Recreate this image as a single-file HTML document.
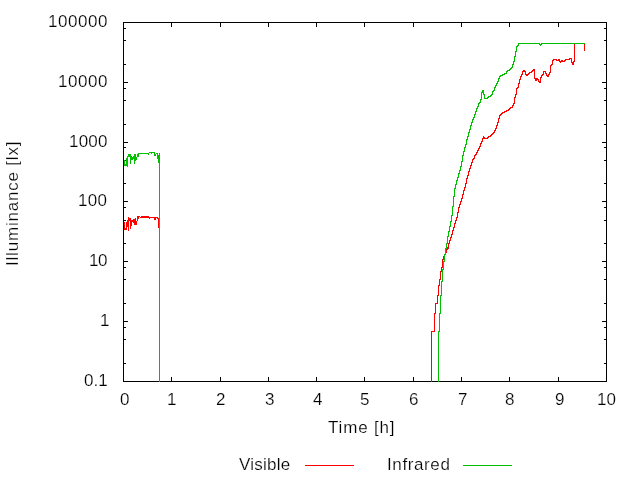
<!DOCTYPE html>
<html><head><meta charset="utf-8"><style>
html,body{margin:0;padding:0;background:#fff;width:640px;height:480px;overflow:hidden}
.t{position:absolute;will-change:transform;font-family:"Liberation Sans",sans-serif;font-size:17px;color:#000;white-space:nowrap;line-height:1;-webkit-text-stroke:0.2px #fff}
.r{will-change:auto;filter:grayscale(1)}
svg{position:absolute;left:0;top:0}
</style></head><body>
<svg width="640" height="480" viewBox="0 0 640 480" shape-rendering="crispEdges">
<rect x="123" y="22" width="484" height="1" fill="#000"/>
<rect x="123" y="381" width="484" height="1" fill="#000"/>
<rect x="123" y="22" width="1" height="360" fill="#000"/>
<rect x="606" y="22" width="1" height="360" fill="#000"/>
<rect x="123" y="381" width="5" height="1" fill="#000"/>
<rect x="602" y="381" width="5" height="1" fill="#000"/>
<rect x="123" y="363" width="3" height="1" fill="#000"/>
<rect x="604" y="363" width="3" height="1" fill="#000"/>
<rect x="123" y="339" width="3" height="1" fill="#000"/>
<rect x="604" y="339" width="3" height="1" fill="#000"/>
<rect x="123" y="327" width="3" height="1" fill="#000"/>
<rect x="604" y="327" width="3" height="1" fill="#000"/>
<rect x="123" y="321" width="5" height="1" fill="#000"/>
<rect x="602" y="321" width="5" height="1" fill="#000"/>
<rect x="123" y="303" width="3" height="1" fill="#000"/>
<rect x="604" y="303" width="3" height="1" fill="#000"/>
<rect x="123" y="279" width="3" height="1" fill="#000"/>
<rect x="604" y="279" width="3" height="1" fill="#000"/>
<rect x="123" y="267" width="3" height="1" fill="#000"/>
<rect x="604" y="267" width="3" height="1" fill="#000"/>
<rect x="123" y="261" width="5" height="1" fill="#000"/>
<rect x="602" y="261" width="5" height="1" fill="#000"/>
<rect x="123" y="243" width="3" height="1" fill="#000"/>
<rect x="604" y="243" width="3" height="1" fill="#000"/>
<rect x="123" y="220" width="3" height="1" fill="#000"/>
<rect x="604" y="220" width="3" height="1" fill="#000"/>
<rect x="123" y="207" width="3" height="1" fill="#000"/>
<rect x="604" y="207" width="3" height="1" fill="#000"/>
<rect x="123" y="201" width="5" height="1" fill="#000"/>
<rect x="602" y="201" width="5" height="1" fill="#000"/>
<rect x="123" y="183" width="3" height="1" fill="#000"/>
<rect x="604" y="183" width="3" height="1" fill="#000"/>
<rect x="123" y="160" width="3" height="1" fill="#000"/>
<rect x="604" y="160" width="3" height="1" fill="#000"/>
<rect x="123" y="147" width="3" height="1" fill="#000"/>
<rect x="604" y="147" width="3" height="1" fill="#000"/>
<rect x="123" y="142" width="5" height="1" fill="#000"/>
<rect x="602" y="142" width="5" height="1" fill="#000"/>
<rect x="123" y="124" width="3" height="1" fill="#000"/>
<rect x="604" y="124" width="3" height="1" fill="#000"/>
<rect x="123" y="100" width="3" height="1" fill="#000"/>
<rect x="604" y="100" width="3" height="1" fill="#000"/>
<rect x="123" y="88" width="3" height="1" fill="#000"/>
<rect x="604" y="88" width="3" height="1" fill="#000"/>
<rect x="123" y="82" width="5" height="1" fill="#000"/>
<rect x="602" y="82" width="5" height="1" fill="#000"/>
<rect x="123" y="64" width="3" height="1" fill="#000"/>
<rect x="604" y="64" width="3" height="1" fill="#000"/>
<rect x="123" y="40" width="3" height="1" fill="#000"/>
<rect x="604" y="40" width="3" height="1" fill="#000"/>
<rect x="123" y="28" width="3" height="1" fill="#000"/>
<rect x="604" y="28" width="3" height="1" fill="#000"/>
<rect x="123" y="22" width="5" height="1" fill="#000"/>
<rect x="602" y="22" width="5" height="1" fill="#000"/>
<rect x="123" y="377" width="1" height="5" fill="#000"/>
<rect x="123" y="22" width="1" height="5" fill="#000"/>
<rect x="171" y="377" width="1" height="5" fill="#000"/>
<rect x="171" y="22" width="1" height="5" fill="#000"/>
<rect x="220" y="377" width="1" height="5" fill="#000"/>
<rect x="220" y="22" width="1" height="5" fill="#000"/>
<rect x="268" y="377" width="1" height="5" fill="#000"/>
<rect x="268" y="22" width="1" height="5" fill="#000"/>
<rect x="316" y="377" width="1" height="5" fill="#000"/>
<rect x="316" y="22" width="1" height="5" fill="#000"/>
<rect x="364" y="377" width="1" height="5" fill="#000"/>
<rect x="364" y="22" width="1" height="5" fill="#000"/>
<rect x="413" y="377" width="1" height="5" fill="#000"/>
<rect x="413" y="22" width="1" height="5" fill="#000"/>
<rect x="461" y="377" width="1" height="5" fill="#000"/>
<rect x="461" y="22" width="1" height="5" fill="#000"/>
<rect x="509" y="377" width="1" height="5" fill="#000"/>
<rect x="509" y="22" width="1" height="5" fill="#000"/>
<rect x="558" y="377" width="1" height="5" fill="#000"/>
<rect x="558" y="22" width="1" height="5" fill="#000"/>
<rect x="606" y="377" width="1" height="5" fill="#000"/>
<rect x="606" y="22" width="1" height="5" fill="#000"/>
<rect x="124" y="222" width="1" height="8" fill="#ff0000"/>
<rect x="125" y="228" width="1" height="2" fill="#ff0000"/>
<rect x="126" y="222" width="1" height="8" fill="#ff0000"/>
<rect x="127" y="220" width="1" height="7" fill="#ff0000"/>
<rect x="128" y="217" width="1" height="14" fill="#ff0000"/>
<rect x="129" y="218" width="1" height="3" fill="#ff0000"/>
<rect x="130" y="218" width="1" height="11" fill="#ff0000"/>
<rect x="131" y="220" width="1" height="6" fill="#ff0000"/>
<rect x="132" y="220" width="1" height="2" fill="#ff0000"/>
<rect x="133" y="219" width="1" height="4" fill="#ff0000"/>
<rect x="134" y="219" width="1" height="6" fill="#ff0000"/>
<rect x="135" y="218" width="1" height="7" fill="#ff0000"/>
<rect x="136" y="221" width="1" height="4" fill="#ff0000"/>
<rect x="137" y="216" width="1" height="5" fill="#ff0000"/>
<rect x="138" y="216" width="1" height="3" fill="#ff0000"/>
<rect x="139" y="216" width="1" height="1" fill="#ff0000"/>
<rect x="140" y="217" width="1" height="1" fill="#ff0000"/>
<rect x="149" y="217" width="1" height="2" fill="#ff0000"/>
<rect x="150" y="217" width="1" height="1" fill="#ff0000"/>
<rect x="151" y="217" width="1" height="1" fill="#ff0000"/>
<rect x="152" y="217" width="1" height="1" fill="#ff0000"/>
<rect x="153" y="217" width="1" height="1" fill="#ff0000"/>
<rect x="154" y="217" width="1" height="3" fill="#ff0000"/>
<rect x="155" y="217" width="1" height="3" fill="#ff0000"/>
<rect x="156" y="217" width="1" height="1" fill="#ff0000"/>
<rect x="157" y="217" width="1" height="2" fill="#ff0000"/>
<rect x="158" y="218" width="1" height="10" fill="#ff0000"/>
<rect x="141" y="216" width="1" height="2" fill="#ff0000"/>
<rect x="142" y="216" width="1" height="2" fill="#ff0000"/>
<rect x="143" y="216" width="1" height="2" fill="#ff0000"/>
<rect x="144" y="216" width="1" height="2" fill="#ff0000"/>
<rect x="145" y="216" width="1" height="2" fill="#ff0000"/>
<rect x="146" y="216" width="1" height="2" fill="#ff0000"/>
<rect x="147" y="216" width="1" height="2" fill="#ff0000"/>
<rect x="148" y="216" width="1" height="2" fill="#ff0000"/>
<path fill="#ff0000" d="M431 331h1v51h-1zM432 331h1v1h-1zM433 331h1v1h-1zM434 313h1v19h-1zM435 303h1v11h-1zM436 303h1v1h-1zM437 295h1v9h-1zM438 285h1v11h-1zM439 279h1v7h-1zM440 271h1v9h-1zM441 267h1v5h-1zM442 259h1v9h-1zM443 256h1v4h-1zM444 254h1v3h-1zM445 252h1v3h-1zM446 249h1v4h-1zM447 247h1v3h-1zM448 243h1v6h-1zM449 240h1v4h-1zM450 237h1v4h-1zM451 234h1v4h-1zM452 230h1v5h-1zM453 227h1v4h-1zM454 223h1v5h-1zM455 220h1v4h-1zM456 217h1v4h-1zM457 212h1v6h-1zM458 207h1v6h-1zM459 204h1v4h-1zM460 201h1v4h-1zM461 198h1v4h-1zM462 194h1v5h-1zM463 190h1v5h-1zM464 187h1v4h-1zM465 183h1v5h-1zM466 178h1v6h-1zM467 175h1v4h-1zM468 171h1v5h-1zM469 168h1v4h-1zM470 165h1v4h-1zM471 162h1v4h-1zM472 159h1v4h-1zM473 158h1v2h-1zM474 155h1v4h-1zM475 154h1v2h-1zM476 152h1v3h-1zM477 150h1v3h-1zM478 148h1v3h-1zM479 146h1v3h-1zM480 143h1v4h-1zM481 141h1v3h-1zM482 138h1v4h-1zM483 136h1v3h-1zM484 137h1v2h-1zM485 138h1v1h-1zM486 138h1v1h-1zM487 137h1v2h-1zM488 136h1v2h-1zM489 136h1v1h-1zM490 135h1v2h-1zM491 134h1v2h-1zM492 133h1v2h-1zM493 132h1v2h-1zM494 130h1v3h-1zM495 128h1v3h-1zM496 125h1v4h-1zM497 122h1v4h-1zM498 118h1v5h-1zM499 115h1v4h-1zM500 114h1v2h-1zM501 113h1v2h-1zM502 112h1v2h-1zM503 112h1v1h-1zM504 111h1v2h-1zM505 111h1v1h-1zM506 110h1v2h-1zM507 110h1v1h-1zM508 109h1v2h-1zM509 108h1v2h-1zM510 107h1v2h-1zM511 107h1v1h-1zM512 105h1v3h-1zM513 103h1v3h-1zM514 97h1v7h-1zM515 94h1v4h-1zM516 88h1v7h-1zM517 87h1v2h-1zM518 83h1v5h-1zM519 79h1v5h-1zM520 76h1v4h-1zM521 74h1v3h-1zM522 71h1v4h-1zM523 70h1v2h-1zM524 70h1v2h-1zM525 71h1v4h-1zM526 74h1v2h-1zM527 74h1v2h-1zM528 73h1v2h-1zM529 72h1v2h-1zM530 72h1v1h-1zM531 71h1v2h-1zM532 70h1v2h-1zM533 69h1v2h-1zM534 69h1v10h-1zM535 78h1v3h-1zM536 78h1v3h-1zM537 78h1v2h-1zM538 79h1v3h-1zM539 81h1v2h-1zM540 77h1v6h-1zM541 75h1v3h-1zM542 74h1v2h-1zM543 71h1v4h-1zM544 71h1v1h-1zM545 71h1v3h-1zM546 73h1v3h-1zM547 75h1v2h-1zM548 74h1v3h-1zM549 72h1v3h-1zM550 65h1v8h-1zM551 64h1v2h-1zM552 60h1v5h-1zM553 59h1v2h-1zM554 59h1v1h-1zM555 59h1v1h-1zM556 59h1v2h-1zM557 60h1v1h-1zM558 59h1v2h-1zM559 59h1v3h-1zM560 61h1v2h-1zM561 60h1v2h-1zM562 60h1v2h-1zM563 61h1v1h-1zM564 60h1v2h-1zM565 59h1v2h-1zM566 59h1v1h-1zM567 59h1v1h-1zM568 59h1v1h-1zM569 58h1v2h-1zM570 58h1v1h-1zM571 58h1v5h-1zM572 62h1v3h-1zM573 61h1v4h-1zM574 43h1v19h-1zM575 43h1v1h-1zM576 43h1v1h-1zM577 43h1v1h-1zM578 43h1v1h-1zM579 43h1v1h-1zM580 43h1v1h-1zM581 43h1v1h-1zM582 43h1v1h-1zM583 43h1v1h-1zM584 43h1v8h-1z"/>
<rect x="124" y="160" width="1" height="6" fill="#00c000"/>
<rect x="125" y="164" width="1" height="2" fill="#00c000"/>
<rect x="126" y="158" width="1" height="8" fill="#00c000"/>
<rect x="127" y="156" width="1" height="11" fill="#00c000"/>
<rect x="128" y="154" width="1" height="3" fill="#00c000"/>
<rect x="129" y="154" width="1" height="3" fill="#00c000"/>
<rect x="130" y="154" width="1" height="10" fill="#00c000"/>
<rect x="131" y="156" width="1" height="4" fill="#00c000"/>
<rect x="132" y="157" width="1" height="3" fill="#00c000"/>
<rect x="133" y="156" width="1" height="3" fill="#00c000"/>
<rect x="134" y="154" width="1" height="10" fill="#00c000"/>
<rect x="135" y="154" width="1" height="7" fill="#00c000"/>
<rect x="136" y="157" width="1" height="3" fill="#00c000"/>
<rect x="137" y="154" width="1" height="3" fill="#00c000"/>
<rect x="138" y="153" width="1" height="4" fill="#00c000"/>
<rect x="148" y="153" width="1" height="2" fill="#00c000"/>
<rect x="149" y="152" width="1" height="1" fill="#00c000"/>
<rect x="150" y="152" width="1" height="1" fill="#00c000"/>
<rect x="151" y="152" width="1" height="2" fill="#00c000"/>
<rect x="152" y="152" width="1" height="1" fill="#00c000"/>
<rect x="153" y="152" width="1" height="1" fill="#00c000"/>
<rect x="154" y="152" width="1" height="4" fill="#00c000"/>
<rect x="155" y="154" width="1" height="2" fill="#00c000"/>
<rect x="156" y="153" width="1" height="1" fill="#00c000"/>
<rect x="157" y="153" width="1" height="6" fill="#00c000"/>
<rect x="158" y="155" width="1" height="8" fill="#00c000"/>
<rect x="159" y="153" width="1" height="229" fill="#00c000"/>
<rect x="139" y="153" width="1" height="1" fill="#00c000"/>
<rect x="140" y="153" width="1" height="1" fill="#00c000"/>
<rect x="141" y="153" width="1" height="1" fill="#00c000"/>
<rect x="142" y="153" width="1" height="1" fill="#00c000"/>
<rect x="143" y="153" width="1" height="1" fill="#00c000"/>
<rect x="144" y="153" width="1" height="1" fill="#00c000"/>
<rect x="145" y="153" width="1" height="1" fill="#00c000"/>
<rect x="146" y="153" width="1" height="1" fill="#00c000"/>
<rect x="147" y="153" width="1" height="1" fill="#00c000"/>
<path fill="#00c000" d="M438 331h1v51h-1zM439 313h1v19h-1zM440 295h1v19h-1zM441 281h1v15h-1zM442 269h1v13h-1zM443 261h1v9h-1zM444 254h1v8h-1zM445 248h1v7h-1zM446 243h1v6h-1zM447 236h1v8h-1zM448 231h1v6h-1zM449 226h1v6h-1zM450 221h1v6h-1zM451 215h1v7h-1zM452 206h1v10h-1zM453 196h1v11h-1zM454 188h1v9h-1zM455 184h1v5h-1zM456 180h1v5h-1zM457 177h1v4h-1zM458 173h1v5h-1zM459 170h1v4h-1zM460 166h1v5h-1zM461 161h1v6h-1zM462 155h1v7h-1zM463 151h1v5h-1zM464 147h1v5h-1zM465 144h1v4h-1zM466 139h1v6h-1zM467 136h1v4h-1zM468 132h1v5h-1zM469 129h1v4h-1zM470 125h1v5h-1zM471 122h1v4h-1zM472 119h1v4h-1zM473 117h1v3h-1zM474 114h1v4h-1zM475 111h1v4h-1zM476 108h1v4h-1zM477 106h1v3h-1zM478 103h1v4h-1zM479 102h1v2h-1zM480 99h1v4h-1zM481 92h1v8h-1zM482 90h1v3h-1zM483 90h1v5h-1zM484 94h1v5h-1zM485 98h1v1h-1zM486 98h1v1h-1zM487 97h1v2h-1zM488 96h1v2h-1zM489 96h1v1h-1zM490 95h1v2h-1zM491 94h1v2h-1zM492 91h1v4h-1zM493 90h1v2h-1zM494 87h1v4h-1zM495 85h1v3h-1zM496 83h1v3h-1zM497 81h1v3h-1zM498 78h1v4h-1zM499 76h1v3h-1zM500 75h1v2h-1zM501 75h1v1h-1zM502 74h1v2h-1zM503 74h1v1h-1zM504 73h1v2h-1zM505 73h1v1h-1zM506 71h1v3h-1zM507 70h1v2h-1zM508 70h1v1h-1zM509 69h1v2h-1zM510 68h1v2h-1zM511 67h1v2h-1zM512 64h1v4h-1zM513 61h1v4h-1zM514 56h1v6h-1zM515 51h1v6h-1zM516 46h1v6h-1zM517 45h1v2h-1zM518 43h1v3h-1zM519 43h1v1h-1zM520 43h1v1h-1zM521 43h1v1h-1zM522 43h1v1h-1zM523 43h1v1h-1zM524 43h1v1h-1zM525 43h1v1h-1zM526 43h1v1h-1zM527 43h1v1h-1zM528 43h1v1h-1zM529 43h1v1h-1zM530 43h1v1h-1zM531 43h1v1h-1zM532 43h1v1h-1zM533 43h1v1h-1zM534 43h1v1h-1zM535 43h1v1h-1zM536 43h1v1h-1zM537 43h1v1h-1zM538 43h1v1h-1zM539 43h1v2h-1zM540 44h1v2h-1zM541 43h1v2h-1zM542 43h1v1h-1zM543 43h1v1h-1zM544 43h1v1h-1zM545 43h1v1h-1zM546 43h1v1h-1zM547 43h1v1h-1zM548 43h1v1h-1zM549 43h1v1h-1zM550 43h1v1h-1zM551 43h1v1h-1zM552 43h1v1h-1zM553 43h1v1h-1zM554 43h1v1h-1zM555 43h1v1h-1zM556 43h1v1h-1zM557 43h1v1h-1zM558 43h1v1h-1zM559 43h1v1h-1zM560 43h1v1h-1zM561 43h1v1h-1zM562 43h1v1h-1zM563 43h1v1h-1zM564 43h1v1h-1zM565 43h1v1h-1zM566 43h1v1h-1zM567 43h1v1h-1zM568 43h1v1h-1zM569 43h1v1h-1zM570 43h1v1h-1zM571 43h1v1h-1zM572 43h1v1h-1zM573 43h1v1h-1zM574 43h1v1h-1zM575 43h1v1h-1zM576 43h1v1h-1zM577 43h1v1h-1zM578 43h1v1h-1zM579 43h1v1h-1zM580 43h1v1h-1zM581 43h1v1h-1zM582 43h1v1h-1zM583 43h1v1h-1zM584 43h1v1h-1z"/>
<rect x="305" y="465" width="49" height="1" fill="#ff0000"/>
<rect x="463" y="465" width="49" height="1" fill="#00c000"/>
</svg>
<div class="t" style="left:47.88px;top:13.00px;letter-spacing:0.55px">100000</div>
<div class="t" style="left:58.40px;top:73.00px;letter-spacing:0.55px">10000</div>
<div class="t" style="left:68.92px;top:133.00px;letter-spacing:0.22px">1000</div>
<div class="t" style="left:78.47px;top:192.10px;letter-spacing:0.27px">100</div>
<div class="t" style="left:89.00px;top:252.10px;letter-spacing:-0.50px">10</div>
<div class="t" style="left:99.50px;top:312.00px;letter-spacing:0.00px">1</div>
<div class="t" style="left:84.00px;top:372.00px;letter-spacing:0.00px">0.1</div>
<div class="t" style="left:327.88px;top:419.30px;letter-spacing:0.82px">Time [h]</div>
<div class="t" style="left:238.65px;top:455.95px;letter-spacing:0.22px">Visible</div>
<div class="t" style="left:387.45px;top:455.95px;letter-spacing:0.61px">Infrared</div>
<div class="t" style="left:119.60px;top:391.00px;letter-spacing:0.00px">0</div>
<div class="t" style="left:167.30px;top:391.00px;letter-spacing:0.00px">1</div>
<div class="t" style="left:216.00px;top:391.00px;letter-spacing:0.00px">2</div>
<div class="t" style="left:264.50px;top:391.00px;letter-spacing:0.00px">3</div>
<div class="t" style="left:313.00px;top:391.00px;letter-spacing:0.00px">4</div>
<div class="t" style="left:360.10px;top:391.00px;letter-spacing:0.00px">5</div>
<div class="t" style="left:409.30px;top:391.00px;letter-spacing:0.00px">6</div>
<div class="t" style="left:457.50px;top:391.00px;letter-spacing:0.00px">7</div>
<div class="t" style="left:505.30px;top:391.00px;letter-spacing:0.00px">8</div>
<div class="t" style="left:554.50px;top:391.00px;letter-spacing:0.00px">9</div>
<div class="t" style="left:596.50px;top:391.00px;letter-spacing:0.00px">10</div>
<div class="t r" style="left:-49.00px;top:193.80px;letter-spacing:0.80px;transform-origin:62.50px 9.50px;transform:rotate(-90deg)">Illuminance [lx]</div>
</body></html>
